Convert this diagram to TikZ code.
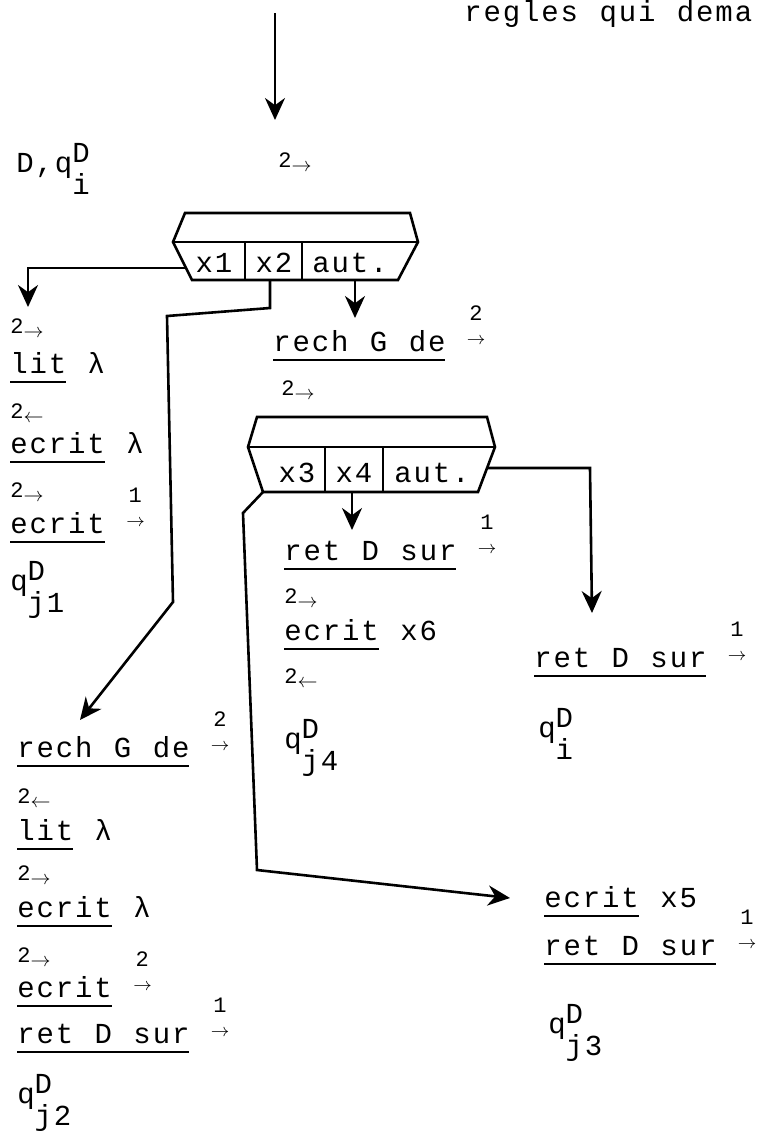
\documentclass[tikz,border=0pt]{standalone}
\usepackage{fontspec}
\setmainfont{Liberation Mono}[LetterSpace=6.5,WordSpace=1.11]
\usetikzlibrary{arrows.meta}

% mot souligne, fleche avec indice de bande, etat q
\newcommand\ulword[1]{\vtop{\hbox{#1}\kern4pt\hrule height 0.9pt}}
\newcommand\upar[1]{\raisebox{3.5pt}{\rlap{\hbox to 9pt{\hss\raisebox{12pt}{\fontsize{11}{11}\selectfont#1}\hss}}\fontsize{9}{9}\selectfont$\rightarrow$}}
\newcommand\smar[1]{{\fontsize{11}{11}\selectfont 2}\raisebox{-2pt}{\fontsize{10}{10}\selectfont$#1$}}
\newcommand\qst[1]{q\rlap{\raisebox{5pt}{D}}\raisebox{-11pt}{#1}}

\begin{document}
\begin{tikzpicture}[x=0.5pt,y=-0.5pt,line width=1.3pt,
  txt/.style={anchor=base west,inner sep=0pt,font=\fontsize{14.5}{16}\selectfont},
  cell/.style={anchor=base,inner sep=0pt,font=\fontsize{14.5}{16}\selectfont},
  flow/.style={-{Stealth[length=11pt,width=10pt]}}]
  \path[use as bounding box] (0,0) rectangle (757,1132);
  \clip (0,0) rectangle (757,1132);

  % haut
  \node[txt] (titre) at (463,21) {regles qui dema};
  \coordinate (entree) at (275,13);
  \coordinate (entreefin) at (275,120);
  \draw[flow] (entree) -- (entreefin);
  \node[txt] (etat0) at (15,172) {D,\qst{i}};
  \node[txt] (dep0) at (277,167) {\smar{\rightarrow}};

  % premier aiguillage
  \draw (185,213) -- (410,213) -- (418,242) -- (398,280) -- (192,280) -- (173,242) -- cycle;
  \draw (173,242) -- (418,242) (245,242) -- (245,280) (302,242) -- (302,280);
  \node[cell] (xa) at (214,272) {x1};
  \node[cell] (xb) at (274,272) {x2};
  \node[cell] (xc) at (350,272) {aut.};
  \coordinate (sa) at (187,268);
  \coordinate (sb) at (270,280);
  \coordinate (sc) at (355,280);

  % branche x1
  \foreach \y/\t [count=\i] in {333/{\smar{\rightarrow}},373/{\ulword{lit} λ},418/{\smar{\leftarrow}},
      453/{\ulword{ecrit} λ},497/{\smar{\rightarrow}},533/{\ulword{ecrit} \upar{1}},590/{\qst{j1}}}
    \node[txt] (g\i) at (9,\y) {\t};
  \coordinate (ta) at (28,307);
  \draw[flow] (sa) -| (ta);

  % branche aut.
  \coordinate (tc) at (355,318);
  \draw[flow] (sc) -- (tc);
  \node[txt] (m1) at (272,351) {\ulword{rech G de} \upar{2}};
  \node[txt] (m2) at (280,395) {\smar{\rightarrow}};

  % second aiguillage
  \draw (257,417) -- (487,417) -- (495,447) -- (478,492) -- (263,492) -- (248,447) -- cycle;
  \draw (248,447) -- (495,447) (325,447) -- (325,492) (383,447) -- (383,492);
  \node[cell] (xd) at (297,482) {x3};
  \node[cell] (xe) at (354,482) {x4};
  \node[cell] (xf) at (432,482) {aut.};
  \coordinate (sd) at (263,492);
  \coordinate (se) at (352,492);
  \coordinate (sf) at (487,468);

  % branche x4
  \coordinate (te) at (352,530);
  \draw[flow] (se) -- (te);
  \foreach \y/\t [count=\i] in {560/{\ulword{ret D sur} \upar{1}},603/{\smar{\rightarrow}},
      640/{\ulword{ecrit} x6},683/{\smar{\leftarrow}},748/{\qst{j4}}}
    \node[txt] (n\i) at (283,\y) {\t};

  % branche aut. (second)
  \coordinate (kf) at (590,468);
  \coordinate (tf) at (592,613);
  \draw[flow] (sf) -- (kf) -- (tf);
  \node[txt] (d1) at (533,667) {\ulword{ret D sur} \upar{1}};
  \node[txt] (d2) at (537,737) {\qst{i}};

  % branche x2
  \coordinate (kb1) at (270,308);
  \coordinate (kb2) at (167,316);
  \coordinate (kb3) at (173,602);
  \coordinate (tb) at (80,720);
  \draw[flow] (sb) -- (kb1) -- (kb2) -- (kb3) -- (tb);
  \foreach \y/\t [count=\i] in {757/{\ulword{rech G de} \upar{2}},803/{\smar{\leftarrow}},840/{\ulword{lit} λ},
      880/{\smar{\rightarrow}},917/{\ulword{ecrit} λ},962/{\smar{\rightarrow}},997/{\ulword{ecrit} \upar{2}},
      1043/{\ulword{ret D sur} \upar{1}},1103/{\qst{j2}}}
    \node[txt] (h\i) at (16,\y) {\t};

  % branche x3
  \coordinate (kd1) at (243,513);
  \coordinate (kd2) at (257,870);
  \coordinate (td) at (510,898);
  \draw[flow] (sd) -- (kd1) -- (kd2) -- (td);
  \node[txt] (b1) at (543,907) {\ulword{ecrit} x5};
  \node[txt] (b2) at (543,955) {\ulword{ret D sur} \upar{1}};
  \node[txt] (b3) at (547,1033) {\qst{j3}};
\end{tikzpicture}
\end{document}
